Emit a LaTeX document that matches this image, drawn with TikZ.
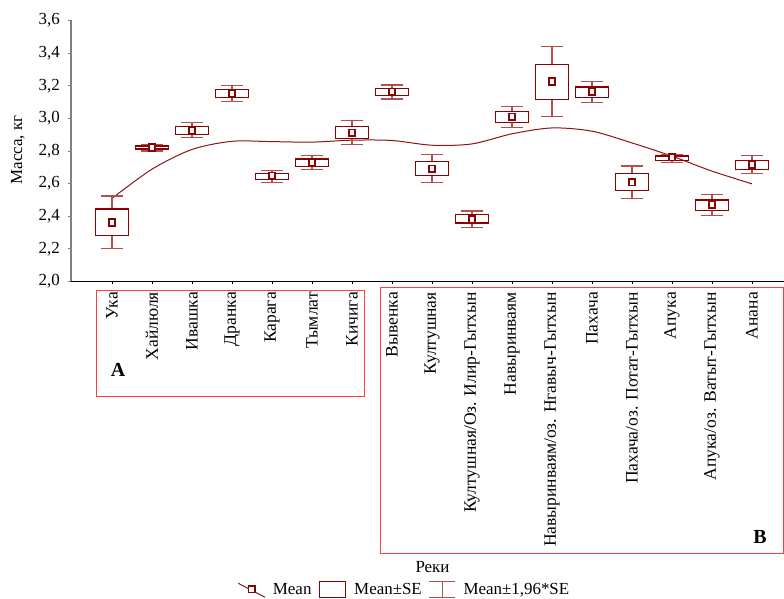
\documentclass[tikz,border=0pt]{standalone}
\usepackage{fontspec}
\setmainfont{Liberation Serif}
\definecolor{boxred}{RGB}{139,0,0}
\definecolor{whiskred}{RGB}{176,80,80}
\definecolor{curvered}{RGB}{140,20,20}
\definecolor{framered}{RGB}{255,64,64}
\definecolor{axisgray}{RGB}{128,128,128}
\begin{document}
\begin{tikzpicture}[x=1bp,y=1bp,
    every node/.style={inner sep=0pt,font=\fontsize{17}{19}\selectfont},
    boxline/.style={boxred,line width=1.3bp},
    whisker/.style={whiskred,line width=1.2bp},
    meanmark/.style={rectangle,draw=boxred,fill=white,line width=1.6bp,minimum size=6.5bp},
    panelframe/.style={framered,line width=1bp}]
    \useasboundingbox (0,0) rectangle (784,599);

    % Ejes
    \foreach \k/\lab in {0/{2,0},1/{2,2},2/{2,4},3/{2,6},4/{2,8},5/{3,0},6/{3,2},7/{3,4},8/{3,6}} {
        \draw[axisgray,line width=1bp] (68,317.5+\k*32.6) -- (71,317.5+\k*32.6);
        \node[anchor=east] (ytick-\k) at (60,317.5+\k*32.6) {\lab};
    }
    \foreach \i in {0,...,16}
        \draw[line width=0.8bp] (112+40*\i,317.5) -- ++(0,-3);
    \draw[axisgray,line width=1.3bp] (71,317.5) -- (71,578.5);
    \draw[line width=1bp] (71,317.5) -- (784,317.5);
    \node[rotate=90] (ylabel) at (18,449) {Масса, кг};

    % Datos
    \begin{scope}[shift={(112,-8.5)},x=40bp,y=163bp]
        \draw[curvered,line width=1bp] plot[smooth] coordinates {(0,2.51) (1,2.689) (2,2.81) (3,2.86) (4,2.858) (5,2.855) (6,2.867) (7,2.865) (8,2.836) (9,2.844) (10,2.906) (11,2.942) (12,2.922) (13,2.85) (14,2.769) (15,2.677) (16,2.599)};
        \foreach \i/\m/\lo/\hi/\wlo/\whi in {0/2.362/2.282/2.445/2.200/2.525, 1/2.822/2.812/2.832/2.801/2.842,
            2/2.928/2.902/2.951/2.883/2.973, 3/3.155/3.129/3.178/3.104/3.202, 4/2.648/2.626/2.664/2.609/2.681,
            5/2.730/2.707/2.752/2.685/2.773, 6/2.912/2.879/2.951/2.842/2.990, 7/3.163/3.141/3.184/3.120/3.206,
            8/2.691/2.650/2.734/2.607/2.777, 9/2.382/2.358/2.409/2.331/2.433, 10/3.010/2.975/3.043/2.945/3.074,
            11/3.227/3.117/3.333/3.010/3.442, 12/3.163/3.129/3.194/3.098/3.227, 13/2.609/2.558/2.663/2.509/2.709,
            14/2.761/2.742/2.769/2.732/2.781, 15/2.470/2.436/2.500/2.405/2.534, 16/2.716/2.689/2.742/2.663/2.771} {
            \draw[whisker] (\i,\hi) -- (\i,\whi) (\i-0.27,\whi) -- (\i+0.27,\whi);
            \draw[whisker] (\i,\lo) -- (\i,\wlo) (\i-0.27,\wlo) -- (\i+0.27,\wlo);
            \draw[boxline] (\i-0.41,\lo) rectangle (\i+0.41,\hi);
            \node[meanmark] (mean-\i) at (\i,\m) {};
        }
    \end{scope}

    % Rios
    \foreach \lab [count=\n from 0] in {Ука,Хайлюля,Ивашка,Дранка,Карага,Тымлат,Кичига,Вывенка,Култушная,
        Култушная/Оз. Илир-Гытхын,Навыринваям,Навыринваям/оз. Нгавыч-Гытхын,Пахача,Пахача/оз. Потат-Гытхын,
        Апука,Апука/оз. Ватыт-Гытхын,Анана}
        \node[rotate=90,anchor=east,font=\fontsize{17.6}{19}\selectfont] (cat-\n) at (112+40*\n,307) {\lab};
    \draw[panelframe] (96,308.3) rectangle (364,202.3);
    \draw[panelframe] (380,311.3) rectangle (783,45.7);
    \node[font=\fontsize{20}{22}\selectfont\bfseries] (groupA) at (118,229) {A};
    \node[font=\fontsize{20}{22}\selectfont\bfseries] (groupB) at (760,62) {B};
    \node (xlabel) at (432.5,32.3) {Реки};

    % Leyenda
    \draw[curvered,line width=1bp] (238.3,15.7) -- (265,1.7);
    \node[meanmark] (legmean) at (251.7,9.7) {};
    \node[anchor=base west] (legmeantext) at (272.7,4.7) {Mean};
    \draw[boxline] (319.3,17.3) rectangle (345.7,1.3);
    \node[anchor=base west] (legsetext) at (354,4.7) {Mean±SE};
    \draw[whisker] (429.3,17.3) -- (455.3,17.3) (429.3,1.3) -- (455.3,1.3) (442.3,17.3) -- (442.3,1.3);
    \node[anchor=base west] (legcitext) at (463.3,4.7) {Mean±1,96*SE};
\end{tikzpicture}
\end{document}
